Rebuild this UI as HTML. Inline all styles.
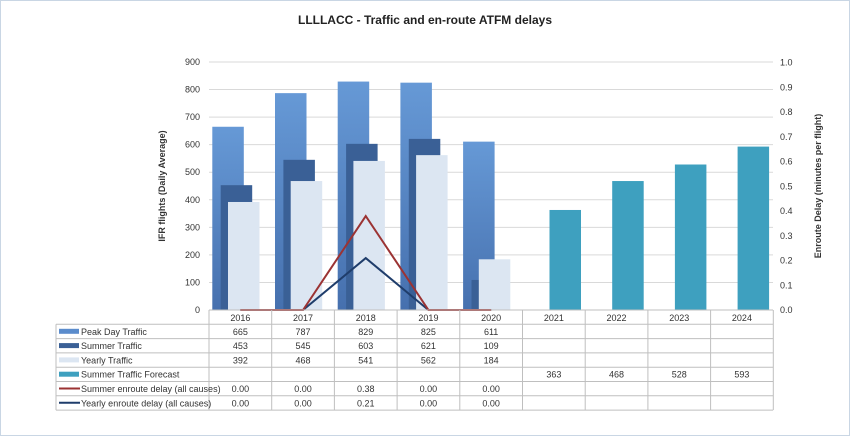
<!DOCTYPE html>
<html><head><meta charset="utf-8"><style>
body{margin:0;background:#fff}
svg text{font-family:"Liberation Sans",sans-serif}
</style></head><body>
<svg width="850" height="436" xmlns="http://www.w3.org/2000/svg">
<defs>
<linearGradient id="pk" x1="0" y1="0" x2="0" y2="1"><stop offset="0" stop-color="#6699d6"/><stop offset="1" stop-color="#4670ae"/></linearGradient>
</defs>
<rect x="0.5" y="0.5" width="849" height="435" fill="#fff" stroke="#c9d6e4"/>
<text x="425" y="24" text-anchor="middle" font-size="12" font-weight="bold" fill="#222">LLLLACC - Traffic and en-route ATFM delays</text>
<g id="grid"></g>
<g id="bars"></g>
<g id="lines"></g>
<g id="axes"></g>
<text transform="translate(165,186) rotate(-90)" text-anchor="middle" font-size="9" font-weight="bold" fill="#333">IFR flights (Daily Average)</text>
<text transform="translate(821,186) rotate(-90)" text-anchor="middle" font-size="9" font-weight="bold" fill="#333">Enroute Delay (minutes per flight)</text>
<g id="table"></g>
</svg>
<script>
const years=["2016","2017","2018","2019","2020","2021","2022","2023","2024"];
const peak=[665,787,829,825,611,null,null,null,null];
const summer=[453,545,603,621,109,null,null,null,null];
const yearly=[392,468,541,562,184,null,null,null,null];
const forecast=[null,null,null,null,null,363,468,528,593];
const summerDelay=[0.00,0.00,0.38,0.00,0.00,null,null,null,null];
const yearlyDelay=[0.00,0.00,0.21,0.00,0.00,null,null,null,null];
const leftTicks=[0,100,200,300,400,500,600,700,800,900];
const rightTicks=["0.0","0.1","0.2","0.3","0.4","0.5","0.6","0.7","0.8","0.9","1.0"];
const NS="http://www.w3.org/2000/svg";
const X0=209,CW=62.7,Y0=310,YT=62;
const yL=v=>Y0-(v/900)*(Y0-YT);
const yR=v=>Y0-(v/1.0)*(Y0-62.7);
const colX=i=>X0+i*CW;
function mk(tag,attrs,parent){const e=document.createElementNS(NS,tag);for(const k in attrs)e.setAttribute(k,attrs[k]);document.getElementById(parent).appendChild(e);return e;}
leftTicks.forEach(t=>{
 const g=mk('line',{x1:X0,x2:773,y1:yL(t),y2:yL(t),stroke:'#d9d9d9','stroke-width':1},'grid');
 
 const tx=mk('text',{x:200,y:yL(t)+3,'text-anchor':'end','font-size':9,fill:'#333'},'axes');tx.textContent=t;
 
});
rightTicks.forEach(t=>{
 const tx=mk('text',{x:780,y:yR(parseFloat(t))+3,'font-size':9,fill:'#333'},'axes');tx.textContent=t;
 
});
const BW=31.5;
function bar(arr,off,fill,name){arr.forEach((v,i)=>{if(v==null)return;
 const r=mk('rect',{x:colX(i)+off,y:yL(v),width:BW,height:Y0-yL(v),fill:fill},'bars');
 });}
bar(peak,3.3,'url(#pk)','peak-bar');
bar(summer,11.7,'#3a6096','summer-bar');
bar(yearly,19,'#dce6f2','yearly-bar');
bar(forecast,27,'#3ea0bf','forecast-bar');
function line(arr,col,name){const pts=[];arr.forEach((v,i)=>{if(v!=null)pts.push((colX(i)+CW/2)+','+yR(v));});
 const p=mk('polyline',{points:pts.join(' '),fill:'none',stroke:col,'stroke-width':2},'lines');
 }
line(yearlyDelay,'#1f3d6b','yearly-delay-line');
line(summerDelay,'#9b3333','summer-delay-line');
// table
const rows=[["Peak Day Traffic",peak,'bar','#5b8ccc',v=>v],["Summer Traffic",summer,'bar','#3a6096',v=>v],["Yearly Traffic",yearly,'bar','#dce6f2',v=>v],["Summer Traffic Forecast",forecast,'bar','#3ea0bf',v=>v],["Summer enroute delay (all causes)",summerDelay,'line','#9b3333',v=>v.toFixed(2)],["Yearly enroute delay (all causes)",yearlyDelay,'line','#1f3d6b',v=>v.toFixed(2)]];
const RH=14.3,TL=56,TR=773;
const H0=310,R0=324.3;
const tb='table';
function ln(x1,y1,x2,y2){const l=mk('line',{x1,y1,x2,y2,stroke:'#bfbfbf','stroke-width':1},tb);}
ln(X0,H0,TR,H0);
for(let r=0;r<=rows.length;r++)ln(TL,R0+r*RH,TR,R0+r*RH);
ln(TL,R0,TL,R0+rows.length*RH);
for(let i=0;i<=years.length;i++)ln(colX(i),H0,colX(i),R0+rows.length*RH);
years.forEach((y,i)=>{const t=mk('text',{x:colX(i)+CW/2,y:H0+11,'text-anchor':'middle','font-size':9,fill:'#333'},tb);t.textContent=y;});
rows.forEach((row,r)=>{const yy=R0+r*RH;
 const k=row[2]=='bar'?mk('rect',{x:TL+3,y:yy+4.5,width:20,height:5,fill:row[3]},tb):mk('line',{x1:TL+3,x2:TL+24,y1:yy+7,y2:yy+7,stroke:row[3],'stroke-width':2},tb);
 
 const t=mk('text',{x:TL+25,y:yy+10.5,'font-size':9,fill:'#333'},tb);t.textContent=row[0];
 row[1].forEach((v,i)=>{if(v==null)return;const c=mk('text',{x:colX(i)+CW/2,y:yy+10.5,'text-anchor':'middle','font-size':9,fill:'#333'},tb);c.textContent=row[4](v);});
});
</script>
</body></html>
